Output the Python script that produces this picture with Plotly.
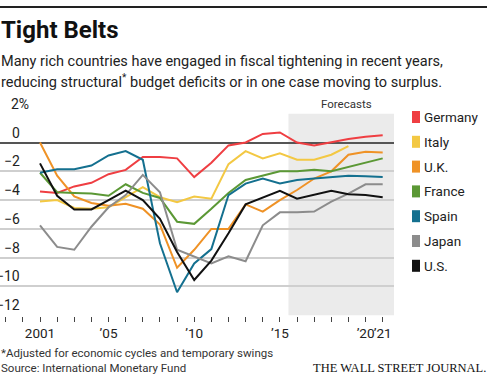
import plotly.graph_objects as go

years = list(range(2001, 2022))
germany = [-3.4, -3.5, -3.05, -2.8, -2.2, -1.9, -1.0, -1.0, -1.1, -2.4, -1.4, -0.2, 0.0, 0.6, 0.7, 0.0, -0.2, 0.05, 0.25, 0.4, 0.5]
italy = [-4.1, -4.0, -4.55, -4.6, -4.5, -3.8, -3.1, -3.8, -4.15, -3.75, -3.9, -1.5, -0.6, -1.1, -0.75, -1.2, -1.2, -0.85, -0.25, None, None]
uk = [0.0, -2.3, -3.75, -4.2, -4.4, -4.25, -4.6, -5.7, -8.7, -7.45, -6.0, -6.0, -4.3, -4.8, -4.0, -3.3, -2.5, -2.0, -0.85, -0.65, -0.7]
france = [-2.1, -3.45, -3.5, -3.55, -3.7, -2.9, -3.5, -3.85, -5.5, -5.65, -4.6, -3.5, -2.6, -2.3, -2.0, -2.0, -1.9, -2.0, -1.7, -1.4, -1.1]
spain = [-2.1, -1.85, -1.85, -1.6, -0.9, -0.6, -1.2, -7.0, -10.4, -8.4, -7.4, -3.65, -2.85, -2.5, -2.85, -2.6, -2.5, -2.4, -2.3, -2.35, -2.4]
japan = [-5.75, -7.25, -7.45, -5.85, -4.5, -3.65, -2.25, -3.45, -7.45, -7.9, -8.4, -7.9, -8.25, -5.75, -4.85, -4.85, -4.8, -4.1, -3.55, -2.9, -2.9]
us = [-1.45, -3.7, -4.65, -4.65, -4.0, -3.35, -4.0, -5.3, -7.6, -9.55, -8.2, -6.3, -4.3, -3.85, -3.35, -3.9, -3.65, -3.35, -3.6, -3.65, -3.8]

series_names = ["Germany", "Italy", "U.K.", "France", "Spain", "Japan", "U.S."]
series_values = [germany, italy, uk, france, spain, japan, us]
series_colors = ["#ef3e42", "#f3c843", "#ef9226", "#5b9835", "#14708f", "#8c8c8c", "#111111"]

y_ticks = [2, 0, -2, -4, -6, -8, -10, -12]
y_tick_labels = ["2%", "0", "\u22122", "\u22124", "\u22126", "\u22128", "\u221210", "\u221212"]
x_label_years = [2001, 2005, 2010, 2015, 2020, 2021]
x_label_text = ["2001", "\u201905", "\u201910", "\u201915", "\u201920", "\u201921"]
forecast_start = 2015.5

W, H = 490, 379
PL, PR, PT, PB = 0, 394, 113, 316
PW, PH = PR - PL, PB - PT
x0 = 2001 - 40 / 17.135
x1 = 2001 + (PR - 40) / 17.135

def px(xp):
    return (xp - PL) / PW

def py(yp):
    return (PB - yp) / PH

FONT = "Roboto, sans-serif"

fig = go.Figure()
for name, vals, col in zip(series_names, series_values, series_colors):
    fig.add_trace(go.Scatter(x=years, y=vals, mode="lines", name=name,
                             line=dict(color=col, width=2), connectgaps=False,
                             showlegend=False, hoverinfo="skip"))

shapes = []
shapes.append(dict(type="rect", xref="x", yref="y", x0=forecast_start, x1=x1, y0=-12, y1=2,
                   fillcolor="#ebebeb", line=dict(width=0), layer="below"))
shapes.append(dict(type="line", xref="paper", yref="paper", x0=px(0), x1=px(487), y0=py(7), y1=py(7),
                   line=dict(color="#222", width=2)))

annotations = []
for v, t in zip(y_ticks, y_tick_labels):
    xr = 22 + (9 if "%" in t else 0)
    annotations.append(dict(x=px(xr), y=v, xref="paper", yref="y", text=t, showarrow=False,
                            xanchor="right", yanchor="bottom", yshift=0,
                            font=dict(family=FONT, size=14, color="#222")))

for i, (name, col) in enumerate(zip(series_names, series_colors)):
    cy = 117 + i * 24.8
    shapes.append(dict(type="rect", xref="paper", yref="paper", x0=px(412), x1=px(420),
                       y0=py(cy + 6), y1=py(cy - 6), fillcolor=col, line=dict(width=0)))
    annotations.append(dict(x=px(422), y=py(cy), xref="paper", yref="paper", text=name, showarrow=False,
                            xanchor="left", yanchor="middle",
                            font=dict(family=FONT, size=13.5, color="#222")))

annotations.append(dict(x=px(346), y=py(104), xref="paper", yref="paper", text="Forecasts", showarrow=False,
                        xanchor="center", yanchor="middle", font=dict(family=FONT, size=11.5, color="#333")))

annotations.append(dict(x=px(-1), y=py(30), xref="paper", yref="paper", text="<b>Tight Belts</b>", showarrow=False,
                        xanchor="left", yanchor="middle", font=dict(family=FONT, size=24, color="#111")))
annotations.append(dict(x=px(-1), y=py(62), xref="paper", yref="paper",
                        text="Many rich countries have engaged in fiscal tightening in recent years,", showarrow=False,
                        xanchor="left", yanchor="middle", font=dict(family=FONT, size=14.5, color="#222")))
annotations.append(dict(x=px(-1), y=py(81), xref="paper", yref="paper",
                        text="reducing structural<sup>*</sup> budget deficits or in one case moving to surplus.", showarrow=False,
                        xanchor="left", yanchor="middle", font=dict(family=FONT, size=14.5, color="#222")))

annotations.append(dict(x=px(-1), y=py(353), xref="paper", yref="paper",
                        text="*Adjusted for economic cycles and temporary swings", showarrow=False,
                        xanchor="left", yanchor="middle", font=dict(family=FONT, size=11.5, color="#333")))
annotations.append(dict(x=px(-1), y=py(368), xref="paper", yref="paper",
                        text="Source: International Monetary Fund", showarrow=False,
                        xanchor="left", yanchor="middle", font=dict(family=FONT, size=11.5, color="#333")))
annotations.append(dict(x=px(488), y=py(368), xref="paper", yref="paper",
                        text="THE WALL STREET JOURNAL.", showarrow=False,
                        xanchor="right", yanchor="middle", font=dict(family="Liberation Serif, serif", size=12.5, color="#111")))

fig.update_layout(
    width=W, height=H,
    margin=dict(l=PL, r=W - PR, t=PT, b=H - PB, pad=0),
    plot_bgcolor="white", paper_bgcolor="white",
    showlegend=False,
    shapes=shapes, annotations=annotations,
    xaxis=dict(range=[x0, x1], tickmode="array", tickvals=x_label_years, ticktext=x_label_text,
               tickangle=0, ticks="outside", ticklen=5, tickwidth=1.2, tickcolor="#444",
               minor=dict(tickmode="linear", tick0=2001, dtick=1, ticks="outside", ticklen=5,
                          tickwidth=1.2, tickcolor="#444", showgrid=False),
               showgrid=False, zeroline=False, showline=False,
               tickfont=dict(family=FONT, size=13.5, color="#222"), fixedrange=True),
    yaxis=dict(range=[-12.05, 2.05], tickmode="array", tickvals=y_ticks, showticklabels=False,
               showgrid=True, gridcolor="#cfcfcf", gridwidth=1.5,
               zeroline=True, zerolinecolor="#555", zerolinewidth=1.5, showline=False,
               ticks="", fixedrange=True),
)

fig.write_html("out.html", config={"displayModeBar": False},
               post_script="document.body.style.margin='0px';document.body.style.overflow='hidden';")
